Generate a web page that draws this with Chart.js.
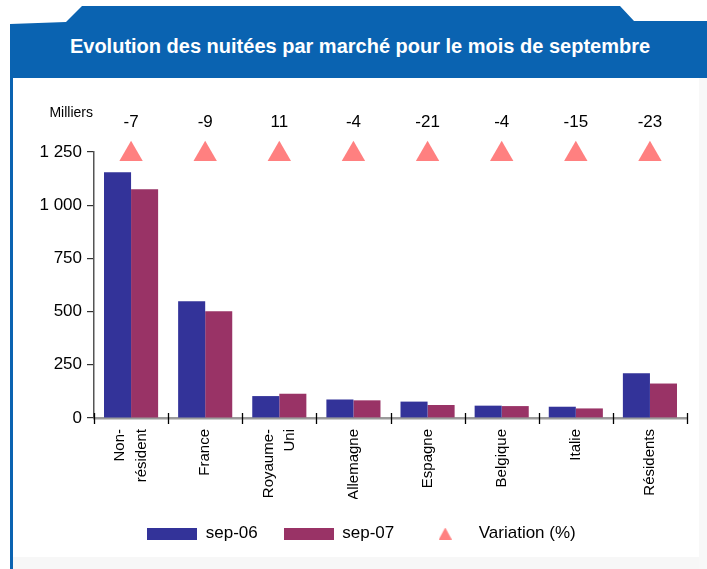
<!DOCTYPE html>
<html lang="fr">
<head>
<meta charset="utf-8">
<title>Evolution des nuitées par marché pour le mois de septembre</title>
<script src="https://cdn.jsdelivr.net/npm/chart.js@4/dist/chart.umd.min.js"></script>
<style>
  html, body { margin: 0; padding: 0; background: #ffffff; }
  #page { position: relative; width: 707px; height: 569px; overflow: hidden; background: #ffffff; font-family: "Liberation Sans", Arial, sans-serif; }
  #hdr { position: absolute; left: 0; top: 0; }
  #title { position: absolute; left: 13px; width: 694px; top: 34px; text-align: center; color: #ffffff; font-weight: bold; font-size: 20px; line-height: 24px; }
  #stripe { position: absolute; left: 10px; top: 76px; width: 3px; height: 493px; background: #0a63b1; }
  #foot { position: absolute; left: 13px; top: 557px; width: 694px; height: 12px; background: #f7f7f7; }
  #rside { position: absolute; left: 699px; top: 78px; width: 8px; height: 491px; background: #f8f8f8; }
  #wrap { position: absolute; left: 13px; top: 80px; width: 694px; height: 489px; }
</style>
</head>
<body>
<div id="page">
  <div id="foot"></div>
  <div id="rside"></div>
  <svg id="hdr" width="707" height="80" viewBox="0 0 707 80">
    <polygon points="10,24 66,22 82,6 620,6 634,21 707,21 707,78 10,78" fill="#0a63b1"/>
  </svg>
  <div id="stripe"></div>
  <div id="title">Evolution des nuitées par marché pour le mois de septembre</div>
  <div id="wrap"><canvas id="c" width="694" height="489"></canvas></div>
</div>
<script>
// ---- data ----
const categories = [["Non-", "résident"], "France", ["Royaume-", "Uni"], "Allemagne", "Espagne", "Belgique", "Italie", "Résidents"];
const sep06 = [1155, 549, 103, 87, 77, 58, 53, 210];
const sep07 = [1075, 502, 114, 83, 61, 56, 45, 162];
const variation = [-7, -9, 11, -4, -21, -4, -15, -23];
const yTicks = [0, 250, 500, 750, 1000, 1250];
const seriesNames = ["sep-06", "sep-07", "Variation (%)"];
const unitLabel = "Milliers";

const Y_MAX = yTicks[yTicks.length - 1];
const MARKER_LEVEL = 1240;
const BLUE = "#333399", RED = "#993366", PINK = "#ff8080";
const FONT = '"Liberation Sans", Arial, sans-serif';

Chart.defaults.font.family = FONT;
Chart.defaults.color = "#000000";

function boxCanvas(color, w, h) {
  const c = document.createElement("canvas");
  c.width = w; c.height = h;
  const g = c.getContext("2d");
  g.fillStyle = color; g.fillRect(0, 0, w, h);
  return c;
}
function triCanvas(color, w, h) {
  const c = document.createElement("canvas");
  c.width = w; c.height = h;
  const g = c.getContext("2d");
  g.fillStyle = color;
  g.beginPath(); g.moveTo(w / 2, 0); g.lineTo(w, h); g.lineTo(0, h); g.closePath(); g.fill();
  return c;
}
const legendIcons = [boxCanvas(BLUE, 50, 12), boxCanvas(RED, 50, 12), triCanvas(PINK, 13, 12)];

const fmt = v => String(v).replace(/\B(?=(\d{3})+(?!\d))/g, " ");

const extras = {
  id: "extras",
  beforeDraw(chart) {
    // center multi-line rotated category labels on their tick
    const items = chart.scales.x.getLabelItems();
    items.forEach(it => {
      if (Array.isArray(it.label) && it.label.length > 1) {
        const lh = it.font.lineHeight;
        it.textOffset = lh / 2 - (it.label.length - 1) * lh / 2;
      }
    });
  },
  afterDraw(chart) {
    const ctx = chart.ctx;
    const x = chart.scales.x, y = chart.scales.y;
    ctx.save();
    // crossing tick marks at category boundaries
    const n = categories.length;
    const step = (x.right - x.left) / n;
    ctx.strokeStyle = "#000000";
    ctx.lineWidth = 1.3;
    const axisY = y.getPixelForValue(0);
    for (let i = 0; i <= n; i++) {
      const px = Math.round(x.left + i * step) + 0.5;
      ctx.beginPath(); ctx.moveTo(px, axisY - 5); ctx.lineTo(px, axisY + 6); ctx.stroke();
    }
    // variation numbers above triangles
    const meta = chart.getDatasetMeta(2);
    ctx.fillStyle = "#000000";
    ctx.font = "17px " + FONT;
    ctx.textAlign = "center";
    ctx.textBaseline = "middle";
    meta.data.forEach((pt, i) => {
      ctx.fillText(String(variation[i]), pt.x, pt.y - 32);
    });
    // unit label
    ctx.font = "14px " + FONT;
    ctx.textAlign = "right";
    ctx.fillText(unitLabel, chart.chartArea.left - 1, chart.chartArea.top - 39);
    ctx.restore();
  }
};

new Chart(document.getElementById("c"), {
  type: "bar",
  data: {
    labels: categories,
    datasets: [
      { label: seriesNames[0], data: sep06, backgroundColor: BLUE, barPercentage: 1, categoryPercentage: 0.73, order: 2 },
      { label: seriesNames[1], data: sep07, backgroundColor: RED, barPercentage: 1, categoryPercentage: 0.73, order: 2 },
      { type: "line", label: seriesNames[2], data: variation.map(() => MARKER_LEVEL), showLine: false,
        pointStyle: "triangle", pointRadius: 13.5, pointHoverRadius: 13.5, pointBackgroundColor: PINK,
        pointBorderColor: PINK, pointBorderWidth: 0, backgroundColor: PINK, borderColor: PINK, clip: false, order: 1 }
    ]
  },
  options: {
    responsive: false,
    animation: false,
    events: [],
    layout: { padding: { top: 72, right: 20, left: 23, bottom: 17 } },
    scales: {
      x: {
        offset: true,
        grid: { display: true, drawOnChartArea: false, drawTicks: false, color: "rgba(0,0,0,0)", offset: true },
        border: { display: true, color: "#9a9a9a", width: 2.5 },
        ticks: { maxRotation: 90, minRotation: 90, padding: 11, autoSkip: false, font: { size: 15, lineHeight: 1.45 }, color: "#000000" },
        afterFit(s) { s.height = 81; }
      },
      y: {
        min: 0, max: Y_MAX,
        afterBuildTicks(s) { s.ticks = yTicks.map(v => ({ value: v })); },
        grid: { display: true, drawOnChartArea: false, drawTicks: true, tickLength: 7, color: "#333333", lineWidth: 1.2 },
        border: { display: true, color: "#555555", width: 1.5 },
        ticks: { padding: 5, font: { size: 17 }, color: "#000000", callback: v => fmt(v) },
        afterFit(s) { s.width = 58; }
      }
    },
    plugins: {
      tooltip: { enabled: false },
      title: { display: false },
      legend: {
        position: "bottom",
        labels: {
          usePointStyle: true,
          pointStyleWidth: 50,
          boxHeight: 12,
          padding: 26,
          font: { size: 17 },
          color: "#000000",
          sort: (a, b) => a.datasetIndex - b.datasetIndex,
          generateLabels(chart) {
            const items = Chart.defaults.plugins.legend.labels.generateLabels(chart);
            items.forEach(it => { it.pointStyle = legendIcons[it.datasetIndex]; it.lineWidth = 0; });
            return items;
          }
        }
      }
    }
  },
  plugins: [extras]
});
</script>
</body>
</html>
